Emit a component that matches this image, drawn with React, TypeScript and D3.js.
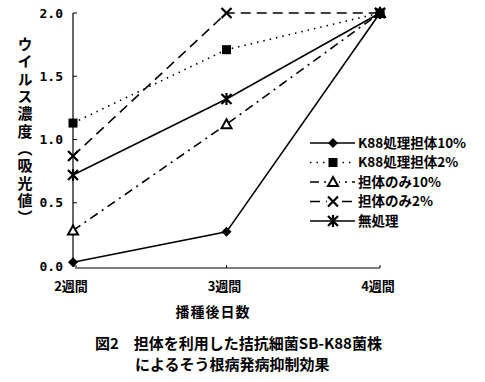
import React from "react";
import * as d3 from "d3";

const weeks = ["2週間", "3週間", "4週間"];
const k88_10 = [0.03, 0.27, 2.0];
const k88_2 = [1.13, 1.71, 2.0];
const carrier10 = [0.28, 1.12, 2.0];
const carrier2 = [0.87, 2.0, 2.0];
const untreated = [0.72, 1.32, 2.0];
const seriesNames = ["K88処理担体10%", "K88処理担体2%", "担体のみ10%", "担体のみ2%", "無処理"];
const yTicks = [0, 0.5, 1.0, 1.5, 2.0];
const yLabel = "ウイルス濃度（吸光値）";

const FONT = "'Noto Sans CJK JP', 'DejaVu Sans', sans-serif";

type Series = { name: string; values: number[]; dash: string; marker: string };

const series: Series[] = [
  { name: seriesNames[0], values: k88_10, dash: "", marker: "diamond" },
  { name: seriesNames[1], values: k88_2, dash: "1.5,5", marker: "square" },
  { name: seriesNames[2], values: carrier10, dash: "9,5,2,5", marker: "triangle" },
  { name: seriesNames[3], values: carrier2, dash: "10,6", marker: "x" },
  { name: seriesNames[4], values: untreated, dash: "", marker: "asterisk" },
];

function Marker({ type, x, y }: { type: string; x: number; y: number }) {
  if (type === "diamond")
    return <path d={`M${x},${y - 5}L${x + 5},${y}L${x},${y + 5}L${x - 5},${y}Z`} fill="#000" />;
  if (type === "square") return <rect x={x - 4.5} y={y - 4.5} width={9} height={9} fill="#000" />;
  if (type === "triangle")
    return <path d={`M${x},${y - 5}L${x + 5},${y + 4}L${x - 5},${y + 4}Z`} fill="#fff" stroke="#000" strokeWidth={2} />;
  if (type === "x")
    return (
      <path d={`M${x - 5},${y - 5}L${x + 5},${y + 5}M${x + 5},${y - 5}L${x - 5},${y + 5}`} stroke="#000" strokeWidth={2.2} />
    );
  return (
    <path
      d={`M${x - 5},${y - 5}L${x + 5},${y + 5}M${x + 5},${y - 5}L${x - 5},${y + 5}M${x},${y - 6}L${x},${y + 6}`}
      stroke="#000"
      strokeWidth={2.2}
    />
  );
}

export default function App() {
  const x = d3.scalePoint<string>().domain(weeks).range([73, 380]);
  const y = d3.scaleLinear().domain([0, 2]).range([266, 13]);
  const line = d3
    .line<number>()
    .x((_, i) => x(weeks[i]) as number)
    .y((d) => y(d));

  const legendX1 = 310;
  const legendX2 = 355;
  const legendMX = 333;
  const legendY0 = 143;
  const legendDy = 19.5;

  return (
    <svg
      width={485}
      height={382}
      style={{ position: "absolute", left: 0, top: 0, background: "#fff" }}
      fontFamily={FONT}
    >
      <rect width={485} height={382} fill="#fff" />
      {/* axes */}
      <line x1={73} x2={73} y1={y(2)} y2={266} stroke="#000" strokeWidth={1.2} />
      <line x1={75} x2={380} y1={268} y2={268} stroke="#000" strokeWidth={1.2} />
      {weeks.slice(1).map((w) => (
        <line key={w} x1={x(w)} x2={x(w)} y1={268} y2={265} stroke="#000" strokeWidth={1} />
      ))}
      {yTicks.map((t) => (
        <g key={t}>
          <line x1={73} x2={77} y1={y(t)} y2={y(t)} stroke="#000" strokeWidth={1} />
          <text x={63} y={y(t)} dy="0.35em" textAnchor="end" fontSize={13} fontWeight="bold" fontFamily="'DejaVu Sans Mono', monospace">
            {d3.format(".1f")(t)}
          </text>
        </g>
      ))}
      {/* y label, vertical */}
      <text
        x={25}
        y={37}
        fontSize={15}
        fontWeight="bold"
        letterSpacing={2.3}
        style={{ writingMode: "vertical-rl" }}
      >
        {yLabel}
      </text>
      {/* lines */}
      {series.map((s) => (
        <path key={s.name} d={line(s.values) as string} fill="none" stroke="#000" strokeWidth={1.6} strokeDasharray={s.dash || undefined} />
      ))}
      {series.map((s) =>
        s.values.map((v, i) => <Marker key={s.name + i} type={s.marker} x={x(weeks[i]) as number} y={y(v)} />)
      )}
      {/* x labels */}
      {weeks.map((w) => (
        <text key={w} x={(x(w) as number) - 2} y={286} dy="0.35em" textAnchor="middle" fontSize={13} fontWeight="bold">
          {w}
        </text>
      ))}
      <text x={213} y={312} dy="0.35em" textAnchor="middle" fontSize={14} fontWeight="bold" letterSpacing={1}>
        播種後日数
      </text>
      {/* legend */}
      {series.map((s, i) => {
        const ly = legendY0 + i * legendDy;
        return (
          <g key={s.name}>
            <line x1={legendX1} x2={legendX2} y1={ly} y2={ly} stroke="#000" strokeWidth={1.6} strokeDasharray={s.dash || undefined} />
            <rect x={legendMX - 6} y={ly - 6} width={12} height={12} fill="#fff" opacity={s.dash ? 1 : 0} />
            <Marker type={s.marker} x={legendMX} y={ly} />
            <text x={358} y={ly} dy="0.35em" fontSize={13.5} fontWeight="bold">
              {s.name}
            </text>
          </g>
        );
      })}
      {/* caption */}
      <text x={95} y={344} dy="0.35em" fontSize={15} fontWeight="bold">
        図2　担体を利用した拮抗細菌SB-K88菌株
      </text>
      <text x={135} y={365} dy="0.35em" fontSize={15} fontWeight="bold">
        によるそう根病発病抑制効果
      </text>
    </svg>
  );
}
